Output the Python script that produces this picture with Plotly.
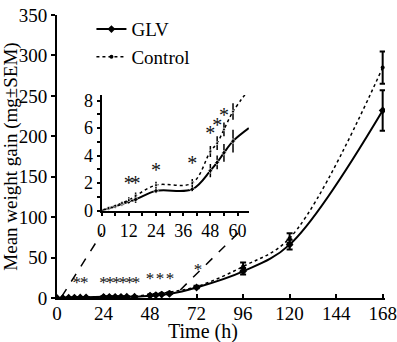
import plotly.graph_objects as go

# ---------------- data ----------------
time_main = [0, 3, 6, 9, 12, 15, 24, 27, 30, 33, 36, 40, 48, 51, 54, 58, 72, 96, 120, 168]
glv_main = [0, 0.15, 0.3, 0.48, 0.64, 0.8, 1.43, 1.45, 1.47, 1.5, 1.52, 1.55, 2.9, 3.5, 4.2, 5.05, 13, 33, 66, 232]
glv_main_err = [0, 0, 0, 0, 0, 0, 0, 0, 0, 0, 0, 0, 0, 0, 0, 0, 1, 4, 6, 25]
ctrl_main = [0, 0.18, 0.35, 0.55, 0.76, 1.07, 1.85, 1.9, 1.92, 1.95, 1.97, 2.0, 4.3, 4.9, 5.9, 7.2, 14, 39, 74, 285]
ctrl_main_err = [0, 0, 0, 0, 0, 0, 0, 0, 0, 0, 0, 0, 0, 0, 0, 0, 1, 5, 6, 20]

time_inset = [0, 3, 6, 9, 12, 15, 24, 40, 48, 51, 54, 58, 65]
glv_inset = [0, 0.15, 0.3, 0.48, 0.64, 0.8, 1.43, 1.55, 2.9, 3.5, 4.2, 5.05, 6.0]
glv_inset_err = [0, 0.04, 0.06, 0.08, 0.12, 0.25, 0.15, 0.15, 0.48, 0.5, 0.65, 0.83, 0]
ctrl_inset = [0, 0.18, 0.35, 0.55, 0.76, 1.07, 1.85, 2.0, 4.3, 4.9, 5.9, 7.2, 8.8]
ctrl_inset_err = [0, 0.05, 0.08, 0.1, 0.2, 0.25, 0.25, 0.3, 0.4, 0.5, 0.5, 0.6, 0]

sig_inset_x = [12, 15, 24, 40, 48, 51, 54, 58]
sig_inset_y = [1.85, 1.85, 2.8, 3.3, 5.5, 6.1, 6.8, 8.5]

sig_main_x = [10.2, 14.1, 24, 27.3, 30.7, 34, 37.4, 40.7, 48, 53.1, 58.3, 72.7]
sig_main_y = [18, 18, 18, 18, 18, 18, 18, 18, 22, 22, 22, 34]

x_ticks_main = [0, 24, 48, 72, 96, 120, 144, 168]
y_ticks_main = [0, 50, 100, 150, 200, 250, 300, 350]
x_ticks_inset = [0, 12, 24, 36, 48, 60]
y_ticks_inset = [0, 2, 4, 6, 8]

FONT = "Liberation Serif"
n_inset = len(time_inset)

fig = go.Figure()

# ---------------- main chart ----------------
fig.add_trace(go.Scatter(
    x=time_main, y=glv_main, name="GLV", legendgroup="a",
    mode="lines+markers", line=dict(color="black", width=2, shape="spline"),
    marker=dict(symbol="diamond", size=6, color="black"),
    error_y=dict(type="data", array=glv_main_err, visible=True, color="black", thickness=2, width=3),
))
fig.add_trace(go.Scatter(
    x=time_main, y=ctrl_main, name="Control", legendgroup="b",
    mode="lines+markers", line=dict(color="black", width=1.5, dash="dot", shape="spline"),
    marker=dict(symbol="circle", size=4, color="black"),
    error_y=dict(type="data", array=ctrl_main_err, visible=True, color="black", thickness=2, width=3),
))
fig.add_trace(go.Scatter(
    x=sig_main_x, y=sig_main_y, mode="text", text=["*"] * len(sig_main_x),
    textfont=dict(family=FONT, size=17, color="#111111"), showlegend=False, hoverinfo="skip",
))

# ---------------- inset ----------------
fig.add_trace(go.Scatter(
    x=time_inset, y=glv_inset, xaxis="x2", yaxis="y2", showlegend=False,
    mode="lines+markers", line=dict(color="black", width=2, shape="spline"),
    marker=dict(symbol="diamond", size=[4] * (n_inset - 1) + [0], color="black"),
    error_y=dict(type="data", array=glv_inset_err, visible=True, color="black", thickness=1.5, width=0),
))
fig.add_trace(go.Scatter(
    x=time_inset, y=ctrl_inset, xaxis="x2", yaxis="y2", showlegend=False,
    mode="lines+markers", line=dict(color="black", width=1.5, dash="dot", shape="spline"),
    marker=dict(symbol="circle", size=[3] * (n_inset - 1) + [0], color="black"),
    error_y=dict(type="data", array=ctrl_inset_err, visible=True, color="black", thickness=1.5, width=0),
))
fig.add_trace(go.Scatter(
    x=sig_inset_x, y=sig_inset_y, xaxis="x2", yaxis="y2", mode="text",
    text=["*"] * len(sig_inset_x), cliponaxis=False,
    textfont=dict(family=FONT, size=20, color="#111111"), showlegend=False, hoverinfo="skip",
))

# dashed zoom connector lines
fig.add_shape(type="line", xref="x", yref="y", x0=2.4, y0=1.6, x1=23.1, y1=80,
              line=dict(color="black", width=1.5, dash="dash"))
fig.add_shape(type="line", xref="x", yref="y", x0=63.6, y0=10, x1=93.7, y1=81,
              line=dict(color="black", width=1.5, dash="dash"))

# x-axis title (placed like the reference, slightly left of centre)
fig.add_annotation(text="Time (h)", xref="paper", yref="paper", x=0.445, y=-0.12,
                   xanchor="center", yanchor="middle", showarrow=False,
                   font=dict(family=FONT, size=20, color="black"))


def axis(**kw):
    base = dict(showline=True, linecolor="black", linewidth=2, showgrid=False, zeroline=False,
                ticks="outside", tickcolor="black", tickwidth=1.5, automargin=False,
                tickfont=dict(family=FONT, size=19, color="black"))
    base.update(kw)
    return base


fig.update_layout(
    width=397, height=342,
    margin=dict(l=57, r=12, t=10, b=44),
    paper_bgcolor="white", plot_bgcolor="white",
    font=dict(family=FONT, size=19, color="black"),
    showlegend=True,
    legend=dict(x=0.105, y=1.017, xanchor="left", yanchor="top", bgcolor="rgba(0,0,0,0)",
                font=dict(family=FONT, size=19), tracegroupgap=0, traceorder="grouped",
                itemwidth=30),
    xaxis=axis(range=[0, 169.2], tickvals=x_ticks_main, ticklen=4, ticks="inside",
               ticklabelstandoff=-3),
    yaxis=axis(range=[0, 350], tickvals=y_ticks_main, ticklen=4,
               title=dict(text="Mean weight gain (mg±SEM)", font=dict(family=FONT, size=19), standoff=0)),
    xaxis2=axis(range=[0, 65], tickvals=x_ticks_inset, ticklen=3, anchor="y2",
                domain=[0.136, 0.585],
                minor=dict(dtick=6, ticks="outside", ticklen=3, tickcolor="black"),
                tickfont=dict(family=FONT, size=18, color="black")),
    yaxis2=axis(range=[0, 8.4], tickvals=y_ticks_inset, ticklen=3, anchor="x2",
                domain=[0.309, 0.717],
                minor=dict(dtick=1, ticks="outside", ticklen=3, tickcolor="black"),
                tickfont=dict(family=FONT, size=18, color="black")),
)

fig.write_html("out.html", config={"displayModeBar": False},
               post_script="document.body.style.margin='0';")
